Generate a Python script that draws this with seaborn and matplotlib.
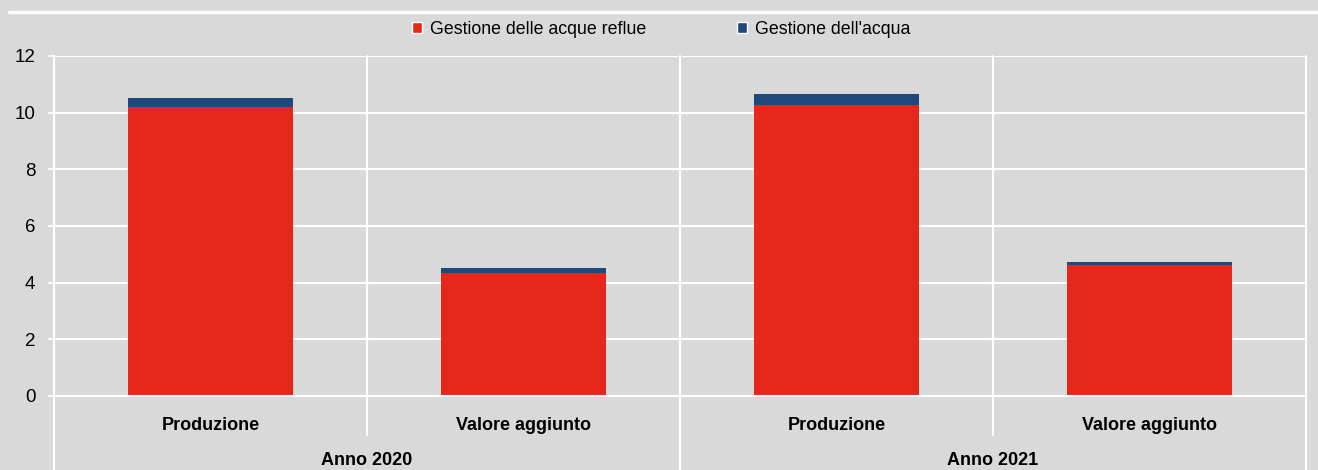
import matplotlib
matplotlib.use("Agg")
import matplotlib.pyplot as plt
import matplotlib.transforms as mtransforms
from matplotlib.patches import Patch
from matplotlib.lines import Line2D
import pandas as pd
import seaborn as sns

# dati
anni = ['Anno 2020', 'Anno 2020', 'Anno 2021', 'Anno 2021']
voci = ['Produzione', 'Valore aggiunto', 'Produzione', 'Valore aggiunto']
acque_reflue = [10.2, 4.35, 10.27, 4.62]
acqua = [0.33, 0.16, 0.39, 0.12]
serie = ['Gestione delle acque reflue', "Gestione dell'acqua"]

rosso = '#e52719'
blu = '#1f497d'
sfondo = '#d9d9d9'

df = pd.DataFrame({'anno': anni, 'voce': voci, 'reflue': acque_reflue, 'acqua': acqua})
df['cat'] = df['anno'] + ' - ' + df['voce']
df['totale'] = df['reflue'] + df['acqua']

sns.set_style('darkgrid', {'axes.facecolor': sfondo, 'figure.facecolor': sfondo,
                           'grid.color': 'white', 'axes.edgecolor': 'white',
                           'text.color': 'black', 'xtick.color': 'black',
                           'ytick.color': 'black'})
plt.rcParams['font.family'] = ['Liberation Sans Narrow', 'Liberation Sans', 'DejaVu Sans']

W, H = 1318, 470
fig = plt.figure(figsize=(W / 100, H / 100), dpi=100)
ax = fig.add_axes([54 / W, 1 - 396 / H, (1306 - 54) / W, 340 / H])

# barre impilate: prima il totale (blu), poi la parte rossa sopra
sns.barplot(data=df, x='cat', y='totale', color=blu, width=0.53, saturation=1,
            errorbar=None, linewidth=0, ax=ax)
sns.barplot(data=df, x='cat', y='reflue', color=rosso, width=0.53, saturation=1,
            errorbar=None, linewidth=0, ax=ax)

ax.set_xlim(-0.5, 3.5)
ax.set_ylim(0, 12)
ax.set_yticks(range(0, 13, 2))
ax.grid(axis='x', visible=False)
ax.grid(axis='y', color='white', linewidth=1.5)
ax.set_axisbelow(True)
ax.set_xlabel('')
ax.set_ylabel('')
for s in ['top', 'right']:
    ax.spines[s].set_visible(False)
ax.spines['left'].set_linewidth(1.5)
ax.spines['bottom'].set_linewidth(1.5)

ax.set_xticks(range(4))
ax.set_xticklabels(voci, fontweight='bold', fontsize=13, color='black')
ax.tick_params(axis='x', length=0, pad=15)
ax.tick_params(axis='y', left=True, length=4.5, width=1.2, color='white',
               pad=9, labelsize=13.5, labelcolor='black')

# linee di separazione tra categorie e anni
trans = mtransforms.blended_transform_factory(ax.transData, ax.transAxes)
for b in [0.5, 2.5]:
    ax.plot([b, b], [1, -0.115], color='white', lw=1.5, transform=trans, clip_on=False)
for b in [-0.5, 1.5, 3.5]:
    ax.plot([b, b], [1, -0.25], color='white', lw=1.5, transform=trans, clip_on=False)

for centro, anno in [(0.5, 'Anno 2020'), (2.5, 'Anno 2021')]:
    ax.text(centro, -0.19, anno, transform=trans, ha='center', va='center',
            fontweight='bold', fontsize=13, color='black')

handles = [Patch(facecolor=rosso, label=serie[0]), Patch(facecolor=blu, label=serie[1])]
fig.legend(handles=handles, loc='center', bbox_to_anchor=(661 / W, 1 - 29 / H), ncol=2,
           frameon=False, handlelength=0.55, handleheight=0.55, handletextpad=0.45,
           columnspacing=5.1, fontsize=12.8, labelcolor='black')

fig.add_artist(Line2D([9 / W, 1], [1 - 12 / H] * 2, color='white', lw=2.5,
                      transform=fig.transFigure))

fig.savefig('out.png', dpi=100, facecolor=sfondo)
